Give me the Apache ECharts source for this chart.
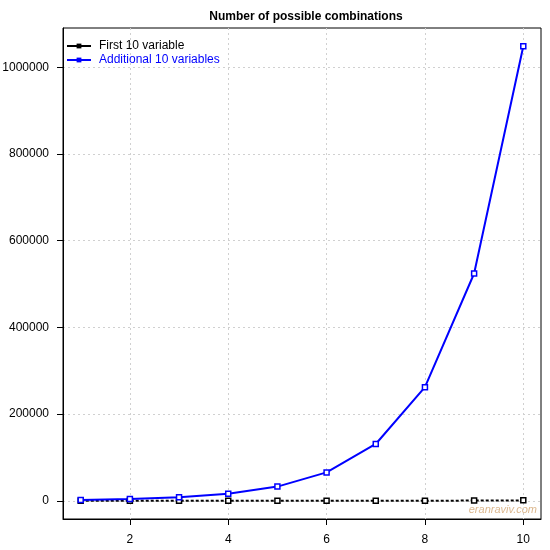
<html>
  <head>
    <meta charset="utf-8">
    <script src="https://cdn.jsdelivr.net/npm/echarts@6/dist/echarts.min.js"></script>
    <style>
      html, body { margin: 0; padding: 0; background: #fff; }
    </style>
  </head>
  <body>
    <div id="main" style="width:550px;height:550px;"></div>
    <script>
      // number of variables on the x axis
      var nVars = [1, 2, 3, 4, 5, 6, 7, 8, 9, 10];
      var firstTen = [2, 4, 8, 16, 32, 64, 128, 256, 512, 1024];
      var additionalTen = [2048, 4096, 8192, 16384, 32768, 65536, 131072, 262144, 524288, 1048576];
      var xTicks = [2, 4, 6, 8, 10];
      var yTicks = [0, 200000, 400000, 600000, 800000, 1000000];

      function pairs(xs, ys) {
        return xs.map(function (x, i) { return [x, ys[i]]; });
      }

      var font = 'Liberation Sans, Arial, sans-serif';
      var myChart = echarts.init(document.getElementById('main'));
      var option = {
        animation: false,
        title: {
          text: 'Number of possible combinations',
          left: 301,
          top: 6,
          textAlign: 'center',
          textStyle: { fontFamily: font, fontSize: 12, fontWeight: 'bold', color: '#000' }
        },
        legend: {
          orient: 'vertical',
          left: 66,
          top: 40,
          padding: 0,
          itemGap: 2,
          itemWidth: 24,
          itemHeight: 6,
          textStyle: { fontFamily: font, fontSize: 12, padding: [0, 0, 0, 3] },
          data: [
            {
              name: 'First 10 variable', textStyle: { color: '#000' },
              lineStyle: { type: 'solid', width: 2 }, itemStyle: { color: '#000', borderWidth: 0 }
            },
            {
              name: 'Additional 10 variables', textStyle: { color: '#0000ff' },
              lineStyle: { type: 'solid', width: 2 }, itemStyle: { color: '#0000ff', borderWidth: 0 }
            }
          ]
        },
        grid: {
          left: 63, right: 9, top: 28, bottom: 31,
          show: true, borderColor: '#000', borderWidth: 1,
          containLabel: false,
          outerBoundsMode: 'none'
        },
        xAxis: {
          type: 'value',
          min: 0.64,
          max: 10.36,
          axisLine: { show: true, onZero: false, lineStyle: { color: '#000' } },
          axisTick: { show: true, inside: false, length: 6, lineStyle: { color: '#000' }, customValues: xTicks },
          axisLabel: { customValues: xTicks, margin: 15, fontFamily: font, fontSize: 12, color: '#000' },
          splitLine: { show: true, lineStyle: { color: '#d0d0d0', type: [2, 3] } }
        },
        yAxis: {
          type: 'value',
          min: -41943,
          max: 1090519,
          axisLine: { show: true, onZero: false, lineStyle: { color: '#000' } },
          axisTick: { show: true, inside: false, length: 6, lineStyle: { color: '#000' }, customValues: yTicks },
          axisLabel: {
            customValues: yTicks, margin: 14, fontFamily: font, fontSize: 12, color: '#000',
            formatter: function (v) { return String(v); }
          },
          splitLine: { show: true, lineStyle: { color: '#d0d0d0', type: [2, 3] } }
        },
        graphic: [{
          type: 'text',
          right: 13,
          top: 504,
          style: {
            text: 'eranraviv.com',
            fill: '#dcb88f',
            font: 'italic 11px ' + font
          }
        }],
        series: [
          {
            name: 'First 10 variable',
            type: 'line',
            data: pairs(nVars, firstTen),
            symbol: 'rect',
            symbolSize: 5,
            color: '#000',
            lineStyle: { color: '#000', width: 2, type: [3, 2] },
            itemStyle: { color: '#fff', borderColor: '#000', borderWidth: 1.5 }
          },
          {
            name: 'Additional 10 variables',
            type: 'line',
            data: pairs(nVars, additionalTen),
            symbol: 'rect',
            symbolSize: 5,
            color: '#0000ff',
            lineStyle: { color: '#0000ff', width: 2 },
            itemStyle: { color: '#fff', borderColor: '#0000ff', borderWidth: 1.5 }
          }
        ]
      };
      myChart.setOption(option);
    </script>
  </body>
</html>
